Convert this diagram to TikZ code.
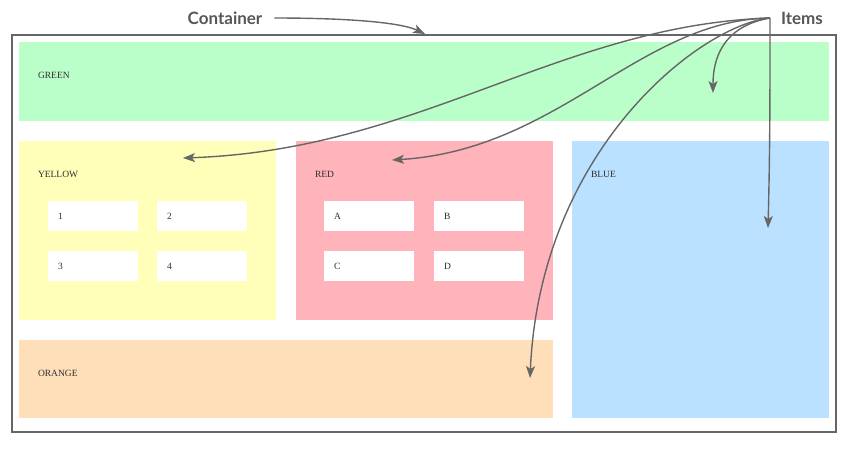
\documentclass[tikz,border=0pt]{standalone}
\usepackage{fontspec}
\setmainfont{Liberation Serif}
\newfontfamily\latofont{Lato}
\usetikzlibrary{arrows.meta}
\definecolor{pgreen}{HTML}{BAFFC9}
\definecolor{pyellow}{HTML}{FFFFBA}
\definecolor{pred}{HTML}{FFB3BA}
\definecolor{pblue}{HTML}{BAE1FF}
\definecolor{porange}{HTML}{FFDFBA}
\definecolor{lgray}{HTML}{666666}
\definecolor{tgray}{HTML}{2E2E2E}
\begin{document}
\begin{tikzpicture}[x=1pt, y=-1pt]
\tikzstyle{every node}=[inner sep=0pt, outer sep=0pt]
\tikzstyle{area}=[rectangle]
\tikzstyle{cell}=[fill=white, minimum width=90pt, minimum height=30pt, text width=70pt, align=left, inner xsep=10pt, font=\fontsize{9.5}{10}\selectfont, text=tgray]
\tikzstyle{lbl}=[anchor=west, font=\fontsize{9.5}{10}\selectfont, text=tgray]
\tikzstyle{callout}=[font=\latofont\bfseries\fontsize{17}{20}\selectfont, text=lgray!85!black]
\tikzstyle{pointer}=[draw=lgray, line width=1.4pt, -{Stealth[length=12pt, width=9pt, inset=3pt]}]
\useasboundingbox (0,0) rectangle (850,448);
\node[draw=lgray, line width=1.8pt, minimum width=824pt, minimum height=397pt] (frame) at (424,233.5) {};
\node[area, fill=pgreen,	minimum width=810pt, minimum height=79pt]	(green)		at (424,81.5)	{};
\node[area, fill=pyellow,	minimum width=257pt, minimum height=179pt]	(yellow)	at (147.5,230.5)	{};
\node[area, fill=pred,		minimum width=257pt, minimum height=179pt]	(red)		at (424.5,230.5)	{};
\node[area, fill=pblue,		minimum width=257pt, minimum height=277pt]	(blue)		at (700.5,279.5)	{};
\node[area, fill=porange,	minimum width=534pt, minimum height=78pt]	(orange)	at (286,379)	{};
\node[lbl] (lgreen)		at (38,75)	{GREEN};
\node[lbl] (lyellow)	at (38,174)	{YELLOW};
\node[lbl] (lred)		at (315,174)	{RED};
\node[lbl] (lblue)		at (591,174)	{BLUE};
\node[lbl] (lorange)	at (38,373)	{ORANGE};
\node[cell] (c1) at (93,216)	{1};
\node[cell] (c2) at (202,216)	{2};
\node[cell] (c3) at (93,266)	{3};
\node[cell] (c4) at (202,266)	{4};
\node[cell] (ca) at (369,216)	{A};
\node[cell] (cb) at (479,216)	{B};
\node[cell] (cc) at (369,266)	{C};
\node[cell] (cd) at (479,266)	{D};
\node[callout] (cont)	at (225,18)	{Container};
\node[callout, anchor=west] (items) at (781,18) {Items};
\coordinate (src)	at ([xshift=-11pt]items.west);
\coordinate (ctip)	at (425,34);
\coordinate (ty)	at (183,158);
\coordinate (tr)	at (392,160);
\coordinate (to)	at (530,378);
\coordinate (tg)	at (713,93);
\coordinate (tb)	at (768,228);
\draw[pointer] ([xshift=12pt]cont.east) .. controls +(70,0) and +(-25,-12) .. (ctip);
\draw[pointer] (src) .. controls +(-210,7) and +(237,-8) .. (ty);
\draw[pointer] (src) .. controls +(-130,2) and +(167,-10) .. (tr);
\draw[pointer] (src) .. controls +(-70,7) and +(10,-228) .. (to);
\draw[pointer] (src) .. controls +(-40,7) and +(0,-43) .. (tg);
\draw[pointer] (src) .. controls +(0,80) and +(2,-80) .. (tb);
\end{tikzpicture}
\end{document}
